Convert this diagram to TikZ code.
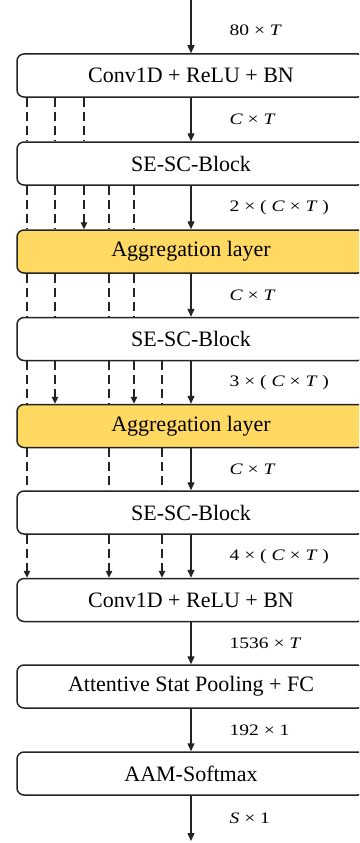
\documentclass[tikz,border=0pt]{standalone}
\usepackage{fontspec}
\setmainfont{Liberation Serif}
\newfontfamily\dimfont[FakeStretch=1.22]{Liberation Serif}
\usetikzlibrary{arrows.meta,positioning}
\definecolor{aggyellow}{RGB}{255,217,97}
\definecolor{linegray}{RGB}{35,35,35}
\tikzset{
  block/.style={%
    draw=linegray, line width=1.5pt, fill=white,
    rounded corners=7pt, inner sep=0pt,
    minimum width=348pt, minimum height=43pt,
    font=\fontsize{22}{26}\selectfont,
  },
  aggblock/.style={block, fill=aggyellow},
  dims/.style={anchor=west, inner sep=0pt, font=\dimfont\fontsize{16}{19}\selectfont},
  flow/.style={draw=linegray, line width=1.3pt, -{Triangle[length=8pt,width=7pt]}},
  skip/.style={draw=linegray, line width=1.3pt, dash pattern=on 9pt off 5pt},
  skiparrow/.style={skip, -{Triangle[length=7pt,width=6.5pt]}},
}

\begin{document}
\begin{tikzpicture}[x=1pt,y=-1pt]
\useasboundingbox (0,0) rectangle (359,843);
\clip (0,0) rectangle (359,843);
% blocks
\node[block]    (conv1) at (191,75.5)  {Conv1D + ReLU + BN};
\node[block]    (se1)   at (191,163.5) {SE-SC-Block};
\node[aggblock] (agg1)  at (191,251.5) {Aggregation layer};
\node[block]    (se2)   at (191,339)   {SE-SC-Block};
\node[aggblock] (agg2)  at (191,426)   {Aggregation layer};
\node[block]    (se3)   at (191,512.5) {SE-SC-Block};
\node[block]    (conv2) at (191,600)   {Conv1D + ReLU + BN};
\node[block]    (pool)  at (191,686.5) {Attentive Stat Pooling + FC};
\node[block]    (aam)   at (191,773.5) {AAM-Softmax};
\coordinate (in)  at (191,0);
\coordinate (out) at (191,841);
% main flow
\draw[flow] (in) -- (conv1) node[dims, midway, right=38pt, yshift=-4pt] (d0) {80 × \textit{T}};
\draw[flow] (conv1) -- (se1) node[dims, midway, right=38pt] (d1) {\textit{C} × \textit{T}};
\draw[flow] (se1) -- (agg1) node[dims, midway, right=38pt] (d2) {2 × ( \textit{C} × \textit{T} )};
\draw[flow] (agg1) -- (se2) node[dims, midway, right=38pt] (d3) {\textit{C} × \textit{T}};
\draw[flow] (se2) -- (agg2) node[dims, midway, right=38pt] (d4) {3 × ( \textit{C} × \textit{T} )};
\draw[flow] (agg2) -- (se3) node[dims, midway, right=38pt] (d5) {\textit{C} × \textit{T}};
\draw[flow] (se3) -- (conv2) node[dims, midway, right=38pt] (d6) {4 × ( \textit{C} × \textit{T} )};
\draw[flow] (conv2) -- (pool) node[dims, midway, right=38pt] (d7) {1536 × \textit{T}};
\draw[flow] (pool) -- (aam) node[dims, midway, right=38pt] (d8) {192 × 1};
\draw[flow] (aam) -- (out) node[dims, midway, right=38pt] (d9) {\textit{S} × 1};
% dense skip columns
\foreach \n/\x in {1/27,2/55,3/84,4/109,5/134,6/162}
  \coordinate (c\n) at (\x,0);
\foreach \c in {1,2,3} \draw[skip] (conv1.south -| c\c) -- (se1.north -| c\c);
\foreach \c in {1,2,4,5} \draw[skip] (se1.south -| c\c) -- (agg1.north -| c\c);
\draw[skiparrow] (se1.south -| c3) -- (agg1.north -| c3);
\foreach \c in {1,2,4,5} \draw[skip] (agg1.south -| c\c) -- (se2.north -| c\c);
\foreach \c in {1,4,6} \draw[skip] (se2.south -| c\c) -- (agg2.north -| c\c);
\foreach \c in {2,5} \draw[skiparrow] (se2.south -| c\c) -- (agg2.north -| c\c);
\foreach \c in {1,4,6} \draw[skip] (agg2.south -| c\c) -- (se3.north -| c\c);
\foreach \c in {1,4,6} \draw[skiparrow] (se3.south -| c\c) -- (conv2.north -| c\c);
\end{tikzpicture}
\end{document}
